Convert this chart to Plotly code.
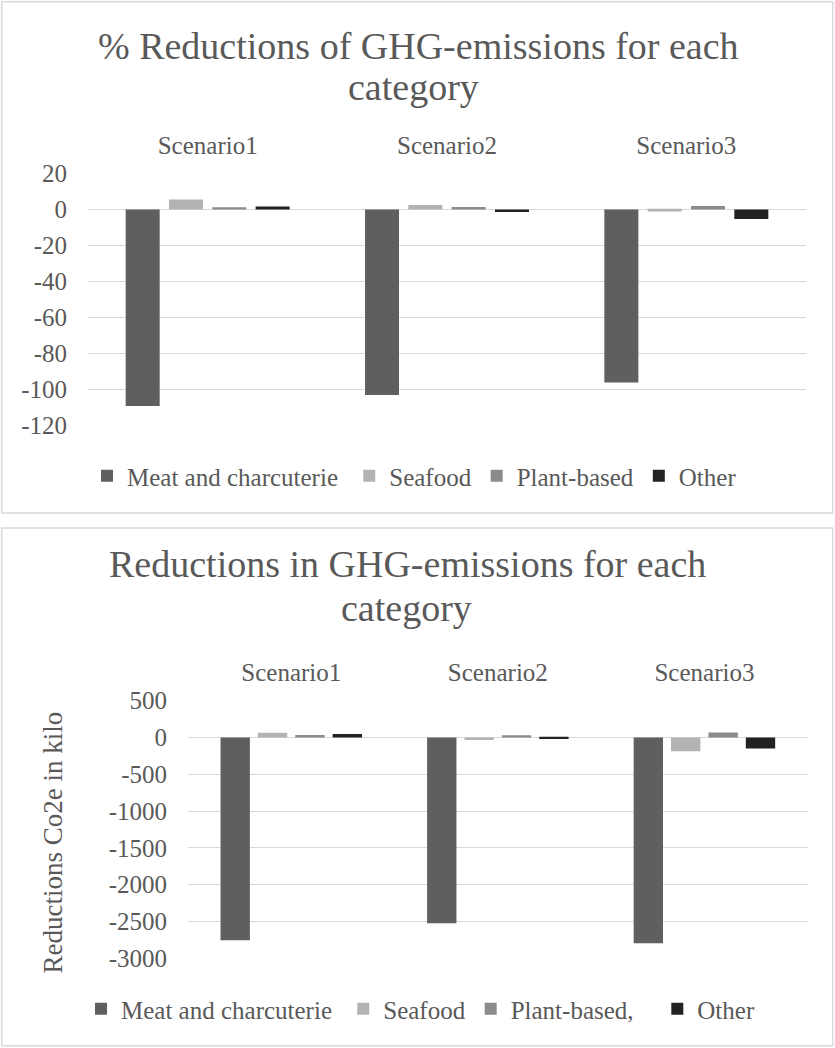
import plotly.graph_objects as go

W, H = 835, 1048

scenarios = ["Scenario1", "Scenario2", "Scenario3"]

# Chart 1: % reductions
pct_meat = [-109.4, -103.3, -96.3]
pct_seafood = [5.6, 2.6, -1.1]
pct_plant = [1.3, 1.5, 2.0]
pct_other = [1.7, -1.3, -5.3]
pct_ticks = [20, 0, -20, -40, -60, -80, -100, -120]
pct_ticklabels = ["20", "0", "-20", "-40", "-60", "-80", "-100", "-120"]

# Chart 2: reductions in kg CO2e
kg_meat = [-2755, -2525, -2795]
kg_seafood = [63, -33, -187]
kg_plant = [35, 31, 68]
kg_other = [49, -19, -150]
kg_ticks = [500, 0, -500, -1000, -1500, -2000, -2500, -3000]
kg_ticklabels = ["500", "0", "-500", "-1000", "-1500", "-2000", "-2500", "-3000"]

names1 = ["Meat and charcuterie&nbsp;", "Seafood", "Plant-based", "Other"]
names2 = ["Meat and charcuterie&nbsp;", "Seafood", "Plant-based,&nbsp;&nbsp;&nbsp;", "Other"]
colors = ["#5f5f5f", "#b3b3b3", "#8b8b8b", "#222222"]

FONT = "Liberation Serif"
TXT = "#595959"
GRID = "#d9d9d9"

fig = go.Figure()
for name, vals, c in zip(names1, [pct_meat, pct_seafood, pct_plant, pct_other], colors):
    fig.add_trace(go.Bar(x=scenarios, y=vals, name=name, marker=dict(color=c, line=dict(width=0)),
                         xaxis="x", yaxis="y", legend="legend"))
for name, vals, c in zip(names2, [kg_meat, kg_seafood, kg_plant, kg_other], colors):
    fig.add_trace(go.Bar(x=scenarios, y=vals, name=name, marker=dict(color=c, line=dict(width=0)),
                         xaxis="x2", yaxis="y2", legend="legend2"))

def px_x(p):
    return p / W

def px_y(p):
    return 1 - p / H

tickfont = dict(family=FONT, size=25, color=TXT)
yaxis_common = dict(showline=False, zeroline=False, gridcolor=GRID, gridwidth=1.3,
                    tickfont=tickfont, automargin=False, ticklabelstandoff=20, tickmode="array")
xaxis_common = dict(side="top", showgrid=False, showline=False, zeroline=False,
                    tickfont=tickfont, automargin=False, ticklabelstandoff=14)

fig.update_layout(
    width=W, height=H,
    margin=dict(l=0, r=0, t=0, b=0, autoexpand=False),
    paper_bgcolor="white", plot_bgcolor="white",
    font=dict(family=FONT, color=TXT),
    barmode="group", bargap=0.276, bargroupgap=0.215,
    xaxis=dict(domain=[px_x(88), px_x(806)], anchor="y", **xaxis_common),
    yaxis=dict(domain=[px_y(425), px_y(173.7)], anchor="x", range=[-120, 20],
               tickvals=pct_ticks, ticktext=pct_ticklabels, **yaxis_common),
    xaxis2=dict(domain=[px_x(188), px_x(807.7)], anchor="y2", **xaxis_common),
    yaxis2=dict(domain=[px_y(958.3), px_y(700.7)], anchor="x2", range=[-3000, 500],
                tickvals=kg_ticks, ticktext=kg_ticklabels, **yaxis_common),
    legend=dict(orientation="h", x=px_x(101 - 14), xanchor="left", y=px_y(476), yanchor="middle",
                font=dict(family=FONT, size=25, color=TXT), bgcolor="rgba(0,0,0,0)"),
    legend2=dict(orientation="h", x=px_x(95 - 14), xanchor="left", y=px_y(1009), yanchor="middle",
                 font=dict(family=FONT, size=25, color=TXT), bgcolor="rgba(0,0,0,0)"),
    shapes=[
        dict(type="rect", xref="paper", yref="paper", x0=px_x(1.7), x1=px_x(832.7),
             y0=px_y(513), y1=px_y(1.7), line=dict(color=GRID, width=1.5), layer="below"),
        dict(type="rect", xref="paper", yref="paper", x0=px_x(1.7), x1=px_x(832.7),
             y0=px_y(1045.7), y1=px_y(528), line=dict(color=GRID, width=1.5), layer="below"),
    ],
    annotations=[
        dict(text="% Reductions of GHG-emissions for each", xref="paper", yref="paper",
             x=px_x(418), y=px_y(45.8), xanchor="center", yanchor="middle", showarrow=False,
             font=dict(family=FONT, size=38, color=TXT)),
        dict(text="category", xref="paper", yref="paper",
             x=px_x(413), y=px_y(87.5), xanchor="center", yanchor="middle", showarrow=False,
             font=dict(family=FONT, size=38, color=TXT)),
        dict(text="Reductions in GHG-emissions for each", xref="paper", yref="paper",
             x=px_x(407), y=px_y(564), xanchor="center", yanchor="middle", showarrow=False,
             font=dict(family=FONT, size=38, color=TXT)),
        dict(text="category", xref="paper", yref="paper",
             x=px_x(406), y=px_y(607.5), xanchor="center", yanchor="middle", showarrow=False,
             font=dict(family=FONT, size=38, color=TXT)),
        dict(text="Reductions Co2e in kilo", xref="paper", yref="paper", textangle=-90,
             x=px_x(52), y=px_y(842.5), xanchor="center", yanchor="middle", showarrow=False,
             font=dict(family=FONT, size=27, color=TXT)),
    ],
)

fig.write_html("out.html")
